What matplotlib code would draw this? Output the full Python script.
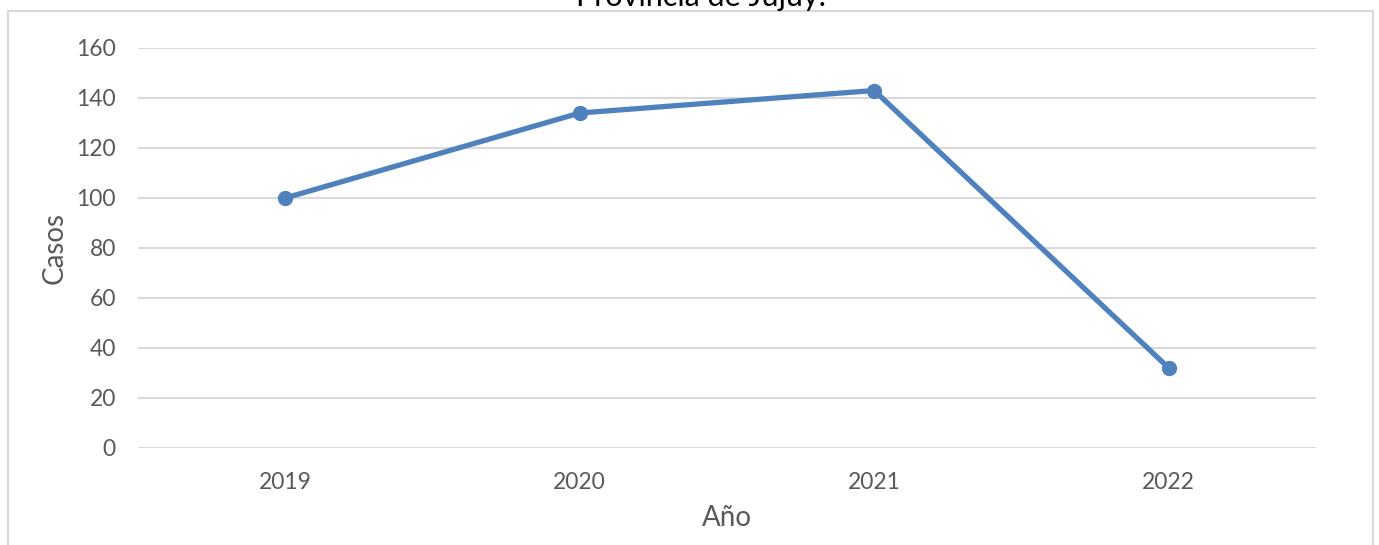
import matplotlib
matplotlib.use("Agg")
import matplotlib.pyplot as plt
from matplotlib.patches import Rectangle

years = ["2019", "2020", "2021", "2022"]
casos = [100, 134, 143, 32]
yticks = [0, 20, 40, 60, 80, 100, 120, 140, 160]

plt.rcParams['font.family'] = ['Lato', 'DejaVu Sans']
gray = '#595959'
grid = '#d9d9d9'
blue = '#4f81bd'

fig = plt.figure(figsize=(13.79, 5.45), dpi=100)

# chart frame
fig.patches.append(Rectangle((8 / 1379, -0.05), (1373 - 8) / 1379, 1.05 - 11 / 545,
                             transform=fig.transFigure, fill=False,
                             edgecolor=grid, linewidth=1.5))

ax = fig.add_axes([138 / 1379, 1 - 448 / 545, (1316 - 138) / 1379, 400 / 545])
x = list(range(len(years)))
ax.plot(x, casos, color=blue, linewidth=3.8, marker='o', markersize=10,
        solid_capstyle='round', zorder=3)

ax.set_xlim(-0.5, 3.5)
ax.set_ylim(0, 160)
ax.set_yticks(yticks)
ax.set_xticks(x)
ax.set_xticklabels(years)
ax.yaxis.grid(True, color=grid, linewidth=1.5)
ax.set_axisbelow(True)
for s in ax.spines.values():
    s.set_visible(False)
ax.tick_params(axis='both', length=0, labelsize=16.5, labelcolor=gray)
ax.tick_params(axis='y', pad=16)
ax.tick_params(axis='x', pad=17)

ax.set_ylabel('Casos', fontsize=20, color=gray, labelpad=6)
ax.set_xlabel('Año', fontsize=20, color=gray, labelpad=9)

fig.text(0.508, 1 - 6 / 545, 'Provincia de Jujuy.', ha='center', va='baseline',
         fontsize=22, color='black')

fig.savefig('out.png', dpi=100, facecolor='white')
